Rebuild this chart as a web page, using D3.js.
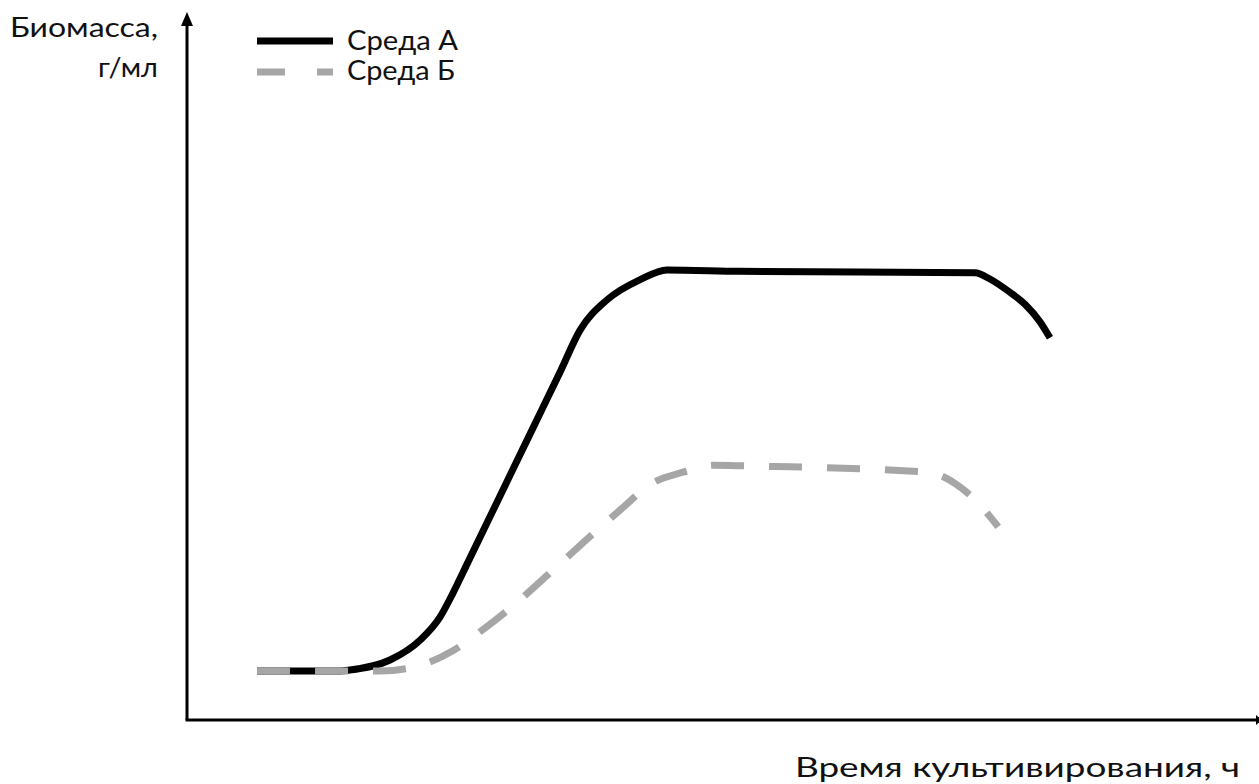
<!DOCTYPE html>
<html><head><meta charset="utf-8">
<script src="https://cdn.jsdelivr.net/npm/d3@7"></script>
<style>
html,body{margin:0;padding:0;background:#fff;}
svg{display:block;}
text{font-family:Lato,"Open Sans","Noto Sans",sans-serif;fill:#111;}
</style></head>
<body>
<svg id="c" width="1259" height="784"></svg>
<script>
// Data (time in h, biomass in g/ml, arbitrary units)
const seriesNames = ["Среда А", "Среда Б"];
const timeA = [1.96, 4.28, 4.56, 5.68, 6.52, 7.08, 7.44, 7.84, 8.76, 9.68, 10.44, 11.0, 11.75, 12.68, 13.43, 15.47, 22.05, 22.47, 23.03, 23.45, 23.87, 24.15];
const biomassA = [0.70, 0.70, 0.714, 0.857, 1.14, 1.47, 1.81, 2.23, 3.2, 4.17, 4.97, 5.57, 6.0, 6.29, 6.43, 6.41, 6.39, 6.3, 6.11, 5.94, 5.69, 5.46];
const timeB = [1.96, 5.4, 6.24, 6.8, 7.44, 8.2, 8.98, 10.24, 11.47, 12.12, 13.04, 13.88, 14.72, 15.67, 20.71, 21.55, 22.14, 22.7];
const biomassB = [0.70, 0.70, 0.743, 0.83, 0.99, 1.26, 1.57, 2.14, 2.71, 3.0, 3.39, 3.54, 3.64, 3.63, 3.54, 3.36, 3.1, 2.76];
const yLabel = ["Биомасса,", "г/мл"];
const xLabel = "Время культивирования, ч";

const svg = d3.select("#c");
const x0 = 187, x1 = 1259, y0 = 720, y1 = 20;
const x = d3.scaleLinear().domain([0, 30]).range([x0, x1]);
const y = d3.scaleLinear().domain([0, 10]).range([y0, y1]);

// axes
svg.append("line").attr("x1", x0).attr("y1", y0).attr("x2", x0).attr("y2", 22)
  .attr("stroke", "#000").attr("stroke-width", 3);
svg.append("path").attr("d", `M${x0-6},26 L${x0},12 L${x0+6},26 Z`).attr("fill", "#000");
svg.append("line").attr("x1", x0 - 1.5).attr("y1", y0).attr("x2", 1259).attr("y2", y0)
  .attr("stroke", "#000").attr("stroke-width", 3);
svg.append("path").attr("d", `M1256,${y0-5} L1262,${y0} L1256,${y0+5} Z`).attr("fill", "#000");

const line = d3.line().x(d => x(d[0])).y(d => y(d[1])).curve(d3.curveMonotoneX);
const dataA = timeA.map((t, i) => [t, biomassA[i]]);
const dataB = timeB.map((t, i) => [t, biomassB[i]]);

svg.append("path").attr("d", line(dataA)).attr("fill", "none")
  .attr("stroke", "#000").attr("stroke-width", 7);
svg.append("path").attr("d", line(dataB)).attr("fill", "none")
  .attr("stroke", "#a6a6a6").attr("stroke-width", 7).attr("stroke-dasharray", "33,25");

// legend
svg.append("line").attr("x1", 257).attr("x2", 333).attr("y1", 41).attr("y2", 41)
  .attr("stroke", "#000").attr("stroke-width", 7);
svg.append("line").attr("x1", 257).attr("x2", 333).attr("y1", 72).attr("y2", 72)
  .attr("stroke", "#a6a6a6").attr("stroke-width", 7).attr("stroke-dasharray", "28,32");
const fs = 26;
function label(tx, ty, str, len, anchor) {
  svg.append("text").attr("x", tx).attr("y", ty).attr("font-size", fs)
    .attr("text-anchor", anchor || "start")
    .attr("textLength", len).attr("lengthAdjust", "spacingAndGlyphs").text(str);
}
label(347, 50, seriesNames[0], 111);
label(347, 80, seriesNames[1], 108);

// axis labels
label(158, 37, yLabel[0], 148, "end");
label(158, 77, yLabel[1], 60, "end");
label(1240, 777, xLabel, 445, "end");
</script>
</body></html>
